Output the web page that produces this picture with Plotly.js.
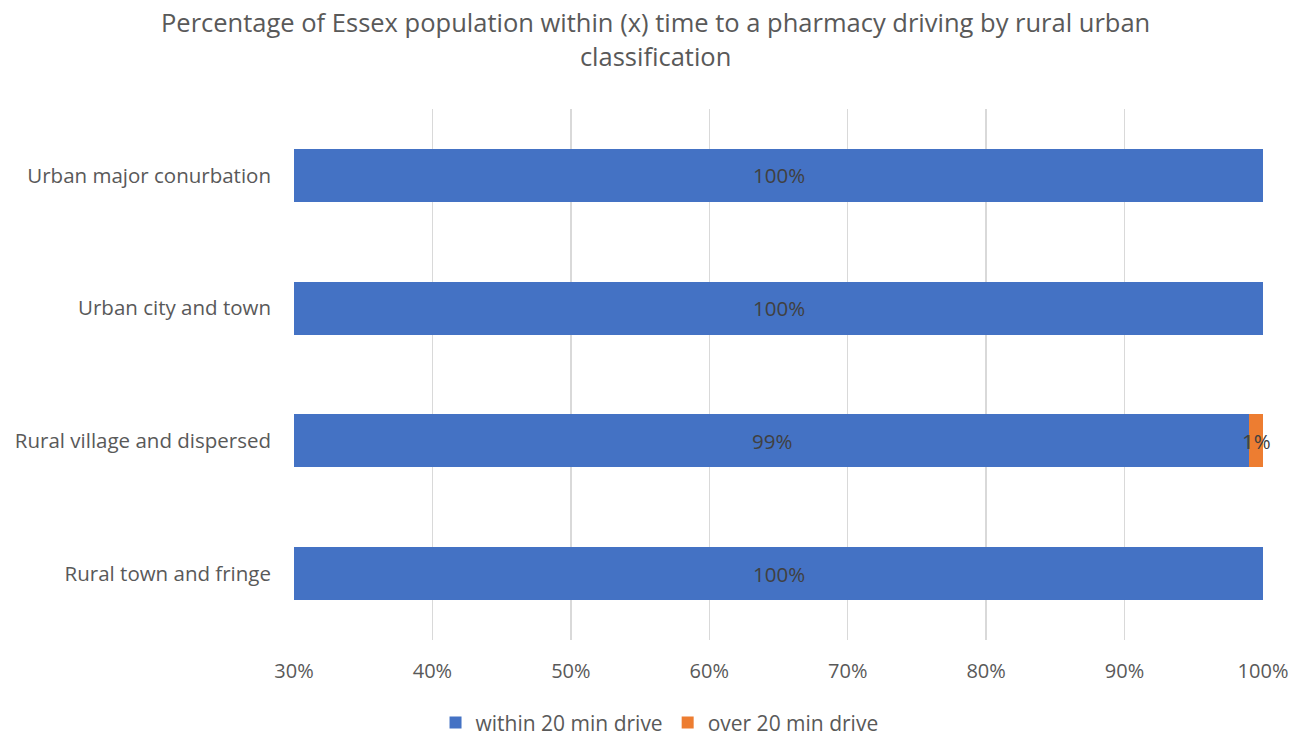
<!DOCTYPE html>
<html>
<head>
<meta charset="utf-8">
<script src="https://cdn.plot.ly/plotly-3.0.1.min.js"></script>
<style>html,body{margin:0;padding:0;background:#fff;}#chart{width:1306px;height:736px;}</style>
</head>
<body>
<div id="chart"></div>
<script>
const categories = ["Urban major conurbation", "Urban city and town", "Rural village and dispersed", "Rural town and fringe"];
const within20 = [100, 100, 99, 100];
const over20 = [0, 0, 1, 0];
const seriesNames = ["within 20 min drive", "over 20 min drive"];
const xTickVals = [30, 40, 50, 60, 70, 80, 90, 100];
const xTickText = ["30%", "40%", "50%", "60%", "70%", "80%", "90%", "100%"];
const xRange = [30, 100];

const fontFam = "'Open Sans', sans-serif";
const lblFont = {family: fontFam, size: 20.5, color: "#404040"};

const traces = [
  {
    type: "bar", orientation: "h", name: seriesNames[0],
    y: categories, x: within20,
    marker: {color: "#4472C4"}, hoverinfo: "x+y"
  },
  {
    type: "bar", orientation: "h", name: seriesNames[1],
    y: categories, x: over20,
    marker: {color: "#ED7D31"}, hoverinfo: "x+y"
  }
];

// Data labels centered on the visible part of each bar segment
const annotations = [];
categories.forEach((c, i) => {
  let base = 0;
  [within20, over20].forEach(series => {
    const v = series[i];
    if (v > 0) {
      const lo = Math.max(base, xRange[0]);
      const hi = base + v;
      annotations.push({
        x: (lo + hi) / 2, y: c, xref: "x", yref: "y",
        text: v + "%", showarrow: false, font: lblFont,
        xanchor: "center", yanchor: "middle"
      });
    }
    base += v;
  });
});

const layout = {
  width: 1306, height: 736,
  paper_bgcolor: "#fff", plot_bgcolor: "#fff",
  barmode: "stack", bargap: 0.6,
  margin: {l: 294, r: 43, t: 109, b: 96, autoexpand: false},
  font: {family: fontFam, color: "#595959", size: 20},
  title: {
    text: "Percentage of Essex population within (x) time to a pharmacy driving by rural urban<br>classification",
    font: {family: fontFam, size: 25.5, color: "#595959"},
    x: 0.502, xanchor: "center", yref: "container", y: 0.956, yanchor: "top"
  },
  xaxis: {
    range: xRange, tickvals: xTickVals, ticktext: xTickText,
    showgrid: true, gridcolor: "#d9d9d9", gridwidth: 1.5,
    zeroline: false, showline: false, ticks: "",
    ticklabelstandoff: 17,
    tickfont: {family: fontFam, size: 20, color: "#595959"}
  },
  yaxis: {
    autorange: "reversed", showgrid: false, zeroline: false, showline: false,
    ticks: "", ticklabelstandoff: 22,
    tickfont: {family: fontFam, size: 20.5, color: "#595959"}
  },
  annotations: annotations,
  showlegend: true,
  legend: {
    orientation: "h", x: 0.505, xanchor: "center", xref: "container",
    yref: "container", y: 0.018, yanchor: "middle",
    font: {family: fontFam, size: 21, color: "#595959"},
    traceorder: "normal"
  }
};

Plotly.newPlot("chart", traces, layout, {displayModeBar: false, staticPlot: true});
</script>
</body>
</html>
